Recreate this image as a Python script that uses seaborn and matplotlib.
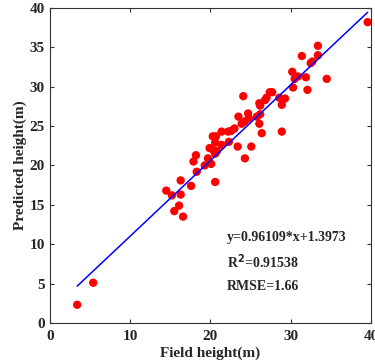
import numpy as np
import pandas as pd
import matplotlib
matplotlib.use("Agg")
import matplotlib.pyplot as plt
import seaborn as sns

# field vs predicted tree height (m)
field = [3.4, 5.4, 14.5, 15.2, 15.5, 16.1, 16.3, 16.3, 16.6, 17.6,
         17.9, 18.2, 18.3, 19.3, 19.7, 19.9, 20.1, 20.3, 20.4, 20.6,
         20.6, 20.6, 20.7, 20.8, 21.4, 21.4, 22.2, 22.3, 22.6, 23.0,
         23.4, 23.5, 23.9, 24.1, 24.3, 24.3, 24.7, 24.8, 25.1, 25.8,
         26.1, 26.1, 26.2, 26.2, 26.4, 26.8, 27.0, 27.4, 27.7, 28.6,
         28.9, 28.9, 29.3, 30.2, 30.3, 30.5, 30.9, 31.4, 31.9, 32.1,
         32.5, 32.7, 33.4, 33.4, 34.5, 39.6]
predicted = [2.3, 5.1, 16.8, 16.2, 14.2, 14.9, 16.3, 18.1, 13.5, 17.4,
             20.5, 21.3, 19.2, 20.0, 20.9, 22.2, 20.2, 23.7, 21.9, 17.9,
             21.5, 22.9, 23.7, 21.8, 22.6, 24.3, 24.3, 23.0, 24.4, 24.7,
             22.4, 26.2, 25.3, 28.8, 20.9, 25.6, 26.6, 26.0, 22.4, 26.2,
             25.3, 27.9, 27.6, 26.5, 24.1, 28.3, 28.6, 29.3, 29.3, 28.6,
             27.7, 24.3, 28.5, 31.9, 29.9, 31.0, 31.3, 33.9, 31.2, 29.6,
             33.0, 33.2, 34.0, 35.2, 31.0, 38.2]

slope = 0.96109
intercept = 1.3973
r2 = 0.91538
rmse = 1.66

df = pd.DataFrame({"field": field, "pred": predicted})
fit_x = [min(field), max(field)]
fit = pd.DataFrame({"x": fit_x, "y": [slope * v + intercept for v in fit_x]})

sns.set_style("ticks")
plt.rcParams["font.family"] = ["Liberation Serif", "DejaVu Serif"]
plt.rcParams["font.weight"] = "bold"

fig = plt.figure(figsize=(3.75, 3.64), dpi=100)
ax = fig.add_axes([0.133, 0.113, 0.856, 0.865])

sns.scatterplot(data=df, x="field", y="pred", color="red", s=36,
                edgecolor="none", ax=ax, zorder=2)
sns.lineplot(data=fit, x="x", y="y", color="blue", linewidth=1.1, ax=ax, zorder=3)

ax.set_xlim(0, 40)
ax.set_ylim(0, 40)
ax.set_xticks([0, 10, 20, 30, 40])
ax.set_yticks(np.arange(0, 41, 5))
ax.tick_params(direction="in", top=True, right=True, length=3,
               labelsize=11, width=0.8, color="#333333")
ax.tick_params(axis="x", pad=5)
for lab in ax.get_xticklabels() + ax.get_yticklabels():
    lab.set_fontweight("bold")
for sp in ax.spines.values():
    sp.set_visible(True)
    sp.set_color("#333333")
    sp.set_linewidth(0.8)

ax.set_xlabel("Field height(m)", fontsize=11, fontweight="bold", labelpad=3)
ax.set_ylabel("Predicted height(m)", fontsize=11, fontweight="bold", labelpad=2)

ax.text(22.1, 10.8, f"y={slope}*x+{intercept}", fontsize=10, fontweight="bold", va="center")
ax.text(22.1, 7.8, f"R$^\\mathbf{{2}}$={r2}", fontsize=10, fontweight="bold", va="center")
ax.text(22.1, 4.6, f"RMSE={rmse}", fontsize=10, fontweight="bold", va="center")

fig.savefig("out.png", dpi=100)
